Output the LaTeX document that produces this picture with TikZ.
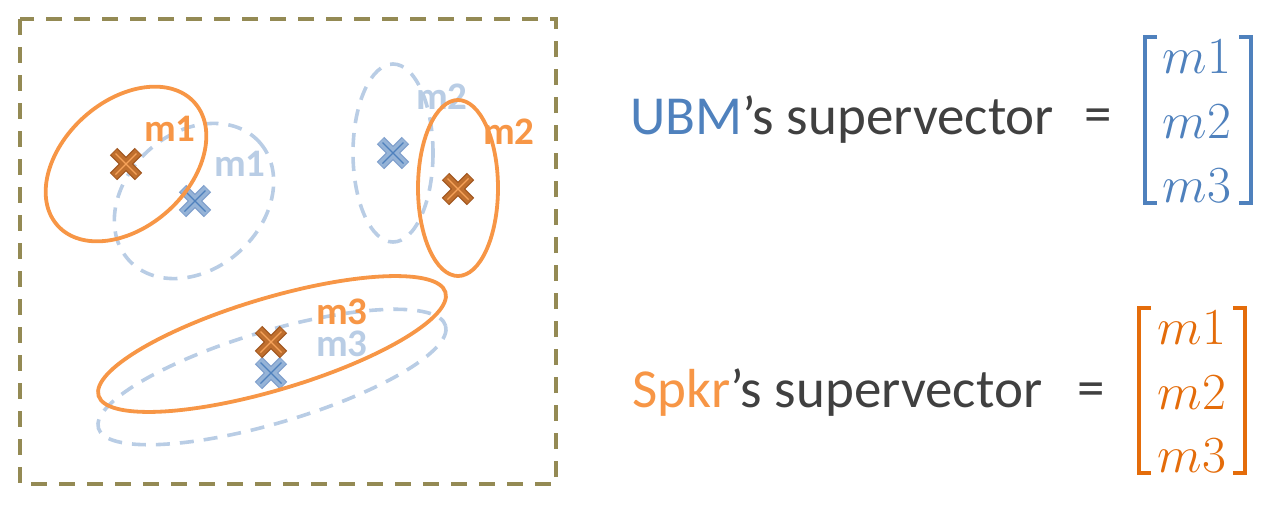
\RequirePackage{fix-cm}
\documentclass[tikz,border=0pt]{standalone}
\usepackage[no-math]{fontspec}
\setmainfont{Carlito}
\definecolor{olive}{HTML}{948A54}
\definecolor{orEll}{HTML}{F79646}
\definecolor{blEll}{HTML}{B9CDE5}
\definecolor{blTxt}{HTML}{4F81BD}
\definecolor{grTxt}{HTML}{404040}
\definecolor{orMat}{HTML}{E46C0A}
\definecolor{xoFill}{HTML}{BF6F2E}
\definecolor{xoEdge}{HTML}{A0561F}
\definecolor{xoLine}{HTML}{F6A25A}
\definecolor{xbFill}{HTML}{95B3D7}
\definecolor{xbEdge}{HTML}{7F9FCC}
\definecolor{xbLine}{HTML}{4F81BD}
\tikzset{
  boxline/.style={draw=olive, line width=3.6, dash pattern=on 16 off 12},
  bluedash/.style={draw=blEll, line width=3.6, dash pattern=on 14 off 10},
  orline/.style={draw=orEll, line width=3.8},
  lab/.style={font=\fontsize{39}{42}\selectfont\bfseries, inner sep=0},
  bigtxt/.style={font=\fontsize{55}{60}\selectfont, inner sep=0, text=grTxt},
  entry/.style={font=\fontsize{52}{55}\selectfont, inner sep=0, anchor=base},
  brk/.style={line width=4.2, line cap=butt, line join=miter},
  xo/.pic={
    \draw[line width=10.5,xoEdge] (-12.5,-12.5)--(12.5,12.5) (-12.5,12.5)--(12.5,-12.5);
    \draw[line width=8,xoFill] (-11.9,-11.9)--(11.9,11.9) (-11.9,11.9)--(11.9,-11.9);
    \draw[line width=1.3,xoLine] (-10.5,-10.5)--(10.5,10.5) (-10.5,10.5)--(10.5,-10.5);
  },
  xb/.pic={
    \draw[line width=10.5,xbEdge] (-12.5,-12.5)--(12.5,12.5) (-12.5,12.5)--(12.5,-12.5);
    \draw[line width=8,xbFill] (-11.9,-11.9)--(11.9,11.9) (-11.9,11.9)--(11.9,-11.9);
    \draw[line width=1.3,xbLine] (-10.5,-10.5)--(10.5,10.5) (-10.5,10.5)--(10.5,-10.5);
  }
}
\begin{document}
\begin{tikzpicture}[x=1pt,y=-1pt]
\useasboundingbox (0,0) rectangle (1272,504);
% frame
\draw[boxline] (20,19) rectangle (556,484);
% UBM (blue, dashed)
\draw[bluedash, rotate around={42:(194,201)}] (194,201) ellipse [x radius=88, y radius=68];
\draw[bluedash] (393,153) ellipse [x radius=40, y radius=89];
\draw[bluedash, rotate around={16.5:(272,377)}] (272,377) ellipse [x radius=181, y radius=46];
\node[lab, text=blEll] (bl1) at (240,164) {m1};
\node[lab, text=blEll] (bl2) at (442,97) {m2};
\node[lab, text=blEll] (bl3) at (342,344) {m3};
\pic (xb1) at (195,201) {xb};
\pic (xb2) at (393,153) {xb};
\pic (xb3) at (271,373) {xb};
% speaker (orange)
\draw[orline, rotate around={42:(126,164)}] (126,164) ellipse [x radius=92, y radius=63];
\draw[orline] (458,188) ellipse [x radius=40, y radius=88];
\draw[orline, rotate around={16.6:(272,344)}] (272,344) ellipse [x radius=181, y radius=46];
\pic (xo1) at (126,164) {xo};
\pic (xo2) at (458,189) {xo};
\pic (xo3) at (271,342) {xo};
\node[lab, text=orEll] (ol1) at (170,129) {m1};
\node[lab, text=orEll] (ol2) at (509,132) {m2};
\node[lab, text=orEll] (ol3) at (342,312) {m3};
% UBM supervector
\node[bigtxt, anchor=base west] (t1) at (630,134) {\textcolor{blTxt}{UBM}’s supervector};
\node[bigtxt] (eq1) at (1098,121) {=};
\draw[brk, blTxt] (1157,37) -- (1145,37) -- (1145,203) -- (1157,203);
\draw[brk, blTxt] (1239,37) -- (1251,37) -- (1251,203) -- (1239,203);
\node[entry, text=blTxt] (u1) at (1197,73) {$m1$};
\node[entry, text=blTxt] (u2) at (1197,138) {$m2$};
\node[entry, text=blTxt] (u3) at (1197,202) {$m3$};
% Speaker supervector
\node[bigtxt, anchor=base west] (t2) at (632,407) {\textcolor{orEll}{Spkr}’s supervector};
\node[bigtxt] (eq2) at (1091,395) {=};
\draw[brk, orMat] (1151,308) -- (1139,308) -- (1139,473) -- (1151,473);
\draw[brk, orMat] (1233,308) -- (1245,308) -- (1245,473) -- (1233,473);
\node[entry, text=orMat] (s1) at (1192,344) {$m1$};
\node[entry, text=orMat] (s2) at (1192,409) {$m2$};
\node[entry, text=orMat] (s3) at (1192,472) {$m3$};
\end{tikzpicture}
\end{document}
